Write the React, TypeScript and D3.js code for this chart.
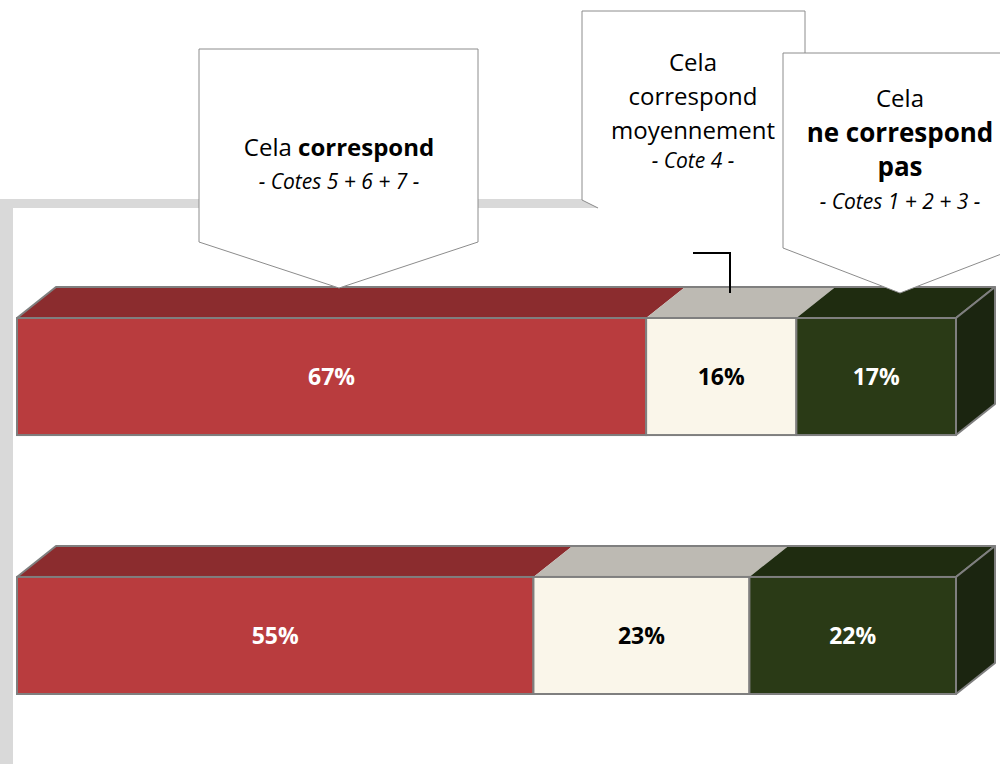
import React from "react";
import * as d3 from "d3";

const rows = ["Ligne 1", "Ligne 2"];
const correspond = [67, 55];
const moyennement = [16, 23];
const neCorrespondPas = [17, 22];
const seriesKeys = ["correspond", "moyennement", "pas"];

const W = 1000;
const H = 764;
const FONT = "'Open Sans', 'Noto Sans', sans-serif";

const frontColors: Record<string, string> = {
  correspond: "#B93C3E",
  moyennement: "#FAF6EA",
  pas: "#2A3A16",
};
const topColors: Record<string, string> = {
  correspond: "#8B2C2E",
  moyennement: "#BDBAB3",
  pas: "#1F2C10",
};
const sideColor = "#1B2510";
const labelColors: Record<string, string> = {
  correspond: "#FFFFFF",
  moyennement: "#000000",
  pas: "#FFFFFF",
};
const edge = "#7F7F7F";

export default function App() {
  const table = rows.map((r, i) => ({
    row: r,
    correspond: correspond[i],
    moyennement: moyennement[i],
    pas: neCorrespondPas[i],
  }));
  const stacked = d3.stack<any>().keys(seriesKeys)(table);

  const x = d3.scaleLinear().domain([0, 100]).range([17, 956]);
  const y = d3
    .scaleBand<string>()
    .domain(rows)
    .range([318, 694])
    .paddingInner(0.548)
    .paddingOuter(0);
  // depth of the 3D effect
  const dx = 39;
  const dy = 31;

  const poly = (pts: [number, number][]) =>
    "M" + pts.map((p) => p.join(",")).join("L") + "Z";

  const callout = (
    x0: number,
    x1: number,
    yt: number,
    yb: number,
    px: number,
    py: number
  ) =>
    poly([
      [x0, yt],
      [x1, yt],
      [x1, yb],
      [px, py],
      [x0, yb],
    ]);

  return (
    <svg
      width={W}
      height={H}
      style={{ position: "absolute", left: 0, top: 0, background: "#fff" }}
    >
      {/* walls */}
      <rect x={0} y={199} width={W} height={9} fill="#D9D9D9" />
      <rect x={0} y={199} width={13} height={H - 199} fill="#D9D9D9" />

      {/* bars */}
      {rows.map((r, ri) => {
        const y0 = y(r)!;
        const h = y.bandwidth();
        const y1 = y0 + h;
        const segs = stacked.map((s) => ({
          key: s.key,
          a: x(s[ri][0]),
          b: x(s[ri][1]),
          v: s[ri][1] - s[ri][0],
        }));
        const last = segs[segs.length - 1];
        return (
          <g key={r}>
            {segs.map((sg) => (
              <path
                key={"t" + sg.key}
                d={poly([
                  [sg.a, y0],
                  [sg.a + dx, y0 - dy],
                  [sg.b + dx, y0 - dy],
                  [sg.b, y0],
                ])}
                fill={topColors[sg.key]}
                stroke="none"
              />
            ))}
            <path
              d={poly([
                [x(0), y0],
                [x(0) + dx, y0 - dy],
                [last.b + dx, y0 - dy],
                [last.b, y0],
              ])}
              fill="none"
              stroke={edge}
              strokeWidth={2}
              strokeLinejoin="round"
            />
            <path
              d={poly([
                [last.b, y0],
                [last.b + dx, y0 - dy],
                [last.b + dx, y1 - dy],
                [last.b, y1],
              ])}
              fill={sideColor}
              stroke={edge}
              strokeWidth={2}
              strokeLinejoin="round"
            />
            {segs.map((sg) => (
              <rect
                key={"f" + sg.key}
                x={sg.a}
                y={y0}
                width={sg.b - sg.a}
                height={h}
                fill={frontColors[sg.key]}
                stroke={edge}
                strokeWidth={2}
              />
            ))}
            {segs.map((sg) => (
              <text
                key={"l" + sg.key}
                x={(sg.a + sg.b) / 2}
                y={y0 + h / 2}
                dy="0.36em"
                textAnchor="middle"
                fontFamily={FONT}
                fontWeight="bold"
                fontSize={23}
                fill={labelColors[sg.key]}
              >
                {sg.v}%
              </text>
            ))}
          </g>
        );
      })}

      {/* callout 1 */}
      <path
        d={callout(199, 478, 49, 242, 339, 288)}
        fill="#fff"
        stroke="#8C8C8C"
        strokeWidth={1}
      />
      <text
        x={339}
        y={156}
        textAnchor="middle"
        fontFamily={FONT}
        fontSize={24}
        fill="#000"
      >
        Cela <tspan fontWeight="bold">correspond</tspan>
      </text>
      <text
        x={339}
        y={189}
        textAnchor="middle"
        fontFamily={FONT}
        fontStyle="italic"
        fontSize={21}
        fill="#000"
      >
        - Cotes 5 + 6 + 7 -
      </text>

      {/* callout 2 */}
      <path d={callout(582, 805, 11, 200, 693, 253)} fill="#fff" stroke="none" />
      <path
        d="M598,208L582,200L582,11L805,11L805,60"
        fill="none"
        stroke="#8C8C8C"
        strokeWidth={1}
      />
      {["Cela", "correspond", "moyennement"].map((t, i) => (
        <text
          key={t}
          x={693}
          y={71 + i * 34}
          textAnchor="middle"
          fontFamily={FONT}
          fontSize={24}
          fill="#000"
        >
          {t}
        </text>
      ))}
      <text
        x={693}
        y={168}
        textAnchor="middle"
        fontFamily={FONT}
        fontStyle="italic"
        fontSize={21}
        fill="#000"
      >
        - Cote 4 -
      </text>
      <path
        d="M693,253L730,253L730,293"
        fill="none"
        stroke="#000"
        strokeWidth={2}
      />

      {/* callout 3 */}
      <path
        d={callout(783, 1017, 53, 248, 900, 293)}
        fill="#fff"
        stroke="#8C8C8C"
        strokeWidth={1}
      />
      <text
        x={900}
        y={107}
        textAnchor="middle"
        fontFamily={FONT}
        fontSize={24}
        fill="#000"
      >
        Cela
      </text>
      <text
        x={900}
        y={142}
        textAnchor="middle"
        fontFamily={FONT}
        fontWeight="bold"
        fontSize={26}
        fill="#000"
      >
        ne correspond
      </text>
      <text
        x={900}
        y={176}
        textAnchor="middle"
        fontFamily={FONT}
        fontWeight="bold"
        fontSize={26}
        fill="#000"
      >
        pas
      </text>
      <text
        x={900}
        y={209}
        textAnchor="middle"
        fontFamily={FONT}
        fontStyle="italic"
        fontSize={21}
        fill="#000"
      >
        - Cotes 1 + 2 + 3 -
      </text>
    </svg>
  );
}
